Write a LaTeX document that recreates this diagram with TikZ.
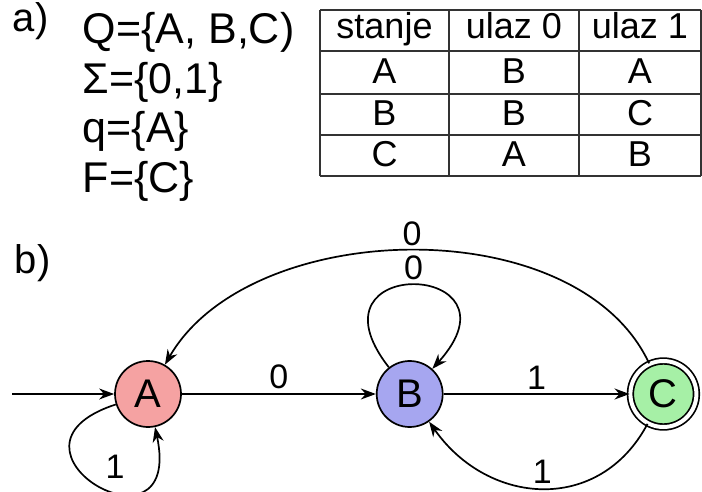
\documentclass[tikz,border=0pt]{standalone}
\usepackage{fontspec}
\setmainfont{Liberation Sans}
\usetikzlibrary{arrows.meta,automata,positioning}

\definecolor{fillA}{RGB}{245,162,162}
\definecolor{fillB}{RGB}{166,166,240}
\definecolor{fillC}{RGB}{166,240,166}

\begin{document}
\begin{tikzpicture}[x=0.5pt,y=-0.5pt,>={Stealth[length=7.5pt,width=5.5pt]},
    line width=0.85pt,node distance=97pt,
    every state/.style={draw,minimum size=33pt,inner sep=0pt,font=\fontsize{20}{22}\selectfont},
    accepting/.style={double,double distance=2pt},
    lbl/.style={font=\fontsize{17}{19}\selectfont,inner sep=2pt},
    txt/.style={anchor=base west,inner sep=0pt,font=\fontsize{21.5}{24}\selectfont},
    cell/.style={anchor=base,inner sep=0pt,font=\fontsize{18}{20}\selectfont},
    grid/.style={draw=black!80,line width=1pt}]

    \useasboundingbox (0,0) rectangle (702,492);

    % a) definicija automata
    \node[txt,font=\fontsize{20}{22}\selectfont] (pa) at (12,32) {a)};
    \node[txt] (defQ) at (82,44) {Q=\{A, B,C)};
    \node[txt] (defS) at (82,94) {Σ=\{0,1\}};
    \node[txt] (defq) at (82,143) {q=\{A\}};
    \node[txt] (defF) at (82,192) {F=\{C\}};

    % tablica prijelaza
    \foreach \y in {10,51,94,135,176} \draw[grid] (320,\y) -- (701,\y);
    \foreach \x in {320,449,579,701} \draw[grid] (\x,10) -- (\x,176);
    \node[cell] (h1) at (384.5,39) {stanje};
    \node[cell] (h2) at (514,39) {ulaz 0};
    \node[cell] (h3) at (640,39) {ulaz 1};
    \foreach \s/\z/\o/\y [count=\r] in {A/B/A/84,B/B/C/126,C/A/B/167} {
        \node[cell] (s\r) at (384.5,\y) {\s};
        \node[cell] (z\r) at (514,\y) {\z};
        \node[cell] (o\r) at (640,\y) {\o};
    }

    % b) graf
    \node[txt,font=\fontsize{20}{22}\selectfont] (pb) at (14,273) {b)};

    \node[state,initial,initial text=,initial distance=51pt,fill=fillA] (A) at (148,394) {A};
    \node[state,fill=fillB] (B) [right=of A] {B};
    \node[state,accepting,fill=fillC] (C) [right=93pt of B] {C};

    \path[->] (A) edge node[lbl,above] {0} (B)
                  edge [out=198,in=-78,looseness=8] node[lbl,pos=0.6,above=4pt] {1} (A)
              (B) edge node[lbl,above] {1} (C)
                  edge [out=128,in=48,looseness=8.5] node[lbl,above] {0} (B)
              (C) edge [out=115,in=60,looseness=0.9] node[lbl,above] {0} (A)
                  edge [out=-118,in=-55,looseness=1.2] node[lbl,above] {1} (B);
\end{tikzpicture}
\end{document}
